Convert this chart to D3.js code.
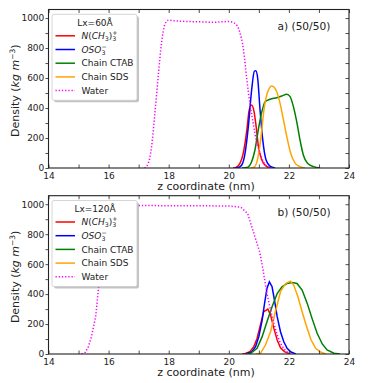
<!DOCTYPE html>
<html>
<head>
<meta charset="utf-8">
<script src="https://cdn.jsdelivr.net/npm/d3@7"></script>
<style>
  body { margin: 0; background: #fff; }
  svg { font-family: "DejaVu Sans", sans-serif; }
</style>
</head>
<body>
<div id="chart"></div>
<script>
// ---- data: [z (nm), density (kg m^-3)] ----
const xTicks = [14, 15, 16, 17, 18, 19, 20, 21, 22, 23, 24];
const yTicks = [0, 100, 200, 300, 400, 500, 600, 700, 800, 900, 1000];
const seriesNames = ["N", "OSO", "Chain CTAB", "Chain SDS", "Water"];
const seriesColors = ["red", "blue", "green", "orange", "magenta"];

const redA = [[20.14,0],[20.24,4],[20.37,31],[20.48,98],[20.6,253],[20.68,387],[20.76,420],[20.84,376],[20.91,276],[20.98,153],[21.1,53],[21.24,13],[21.39,0]];
const blueA = [[20.19,0],[20.32,3],[20.43,20],[20.54,98],[20.65,276],[20.76,520],[20.85,645],[20.9,649],[20.96,600],[21.04,387],[21.13,187],[21.24,53],[21.37,13],[21.54,0]];
const greenA = [[20.44,0],[20.6,3],[20.76,42],[20.87,120],[20.98,253],[21.1,376],[21.21,442],[21.37,458],[21.6,469],[21.76,480],[21.93,491],[22.04,476],[22.15,409],[22.26,309],[22.37,187],[22.48,87],[22.62,31],[22.82,9],[23.04,0]];
const orangeA = [[20.74,0],[20.84,5],[20.95,53],[21.06,187],[21.17,387],[21.28,498],[21.43,547],[21.54,531],[21.68,453],[21.82,320],[21.93,209],[22.06,98],[22.21,31],[22.37,9],[22.54,0]];
const waterA = [[17.2,0],[17.32,31],[17.43,142],[17.54,364],[17.65,610],[17.76,833],[17.87,955],[17.98,985],[18.3,980],[19,975],[19.5,972],[20,977],[20.2,965],[20.35,915],[20.49,787],[20.6,590],[20.71,420],[20.82,290],[20.93,170],[21.04,100],[21.15,42],[21.26,13],[21.4,0]];

const redB = [[20.45,0],[20.55,3],[20.7,16],[20.83,49],[20.94,104],[21.05,193],[21.16,282],[21.3,300],[21.39,260],[21.5,171],[21.61,93],[21.72,42],[21.85,16],[22.03,0]];
const blueB = [[20.55,0],[20.61,3],[20.77,16],[20.89,49],[21.0,116],[21.11,227],[21.19,338],[21.27,438],[21.35,482],[21.44,449],[21.52,360],[21.61,249],[21.72,149],[21.83,82],[21.94,38],[22.07,13],[22.23,0]];
const greenB = [[20.55,0],[20.72,3],[20.94,38],[21.11,116],[21.27,216],[21.44,316],[21.61,404],[21.77,449],[21.94,471],[22.11,478],[22.27,471],[22.44,427],[22.61,338],[22.77,238],[22.94,138],[23.11,67],[23.27,27],[23.5,5],[23.7,0]];
const orangeB = [[20.9,0],[21.05,3],[21.22,60],[21.39,149],[21.55,282],[21.72,416],[21.89,471],[22.05,487],[22.16,460],[22.3,382],[22.44,282],[22.59,182],[22.74,93],[22.89,38],[23.05,13],[23.23,0]];
const waterB = [[15.1,0],[15.22,10],[15.33,50],[15.43,117],[15.57,250],[15.67,450],[15.8,700],[15.95,900],[16.1,975],[16.3,990],[17,992],[18,990],[19,990],[20,988],[20.4,980],[20.63,937],[20.8,827],[21.03,680],[21.14,560],[21.27,404],[21.39,293],[21.5,204],[21.61,127],[21.72,71],[21.83,36],[21.94,13],[22.08,0]];

const panels = [
  { top: 9.5, bottom: 168, title: "Lx=60Å", tag: "a) (50/50)", data: [redA, blueA, greenA, orangeA, waterA] },
  { top: 195.7, bottom: 354, title: "Lx=120Å", tag: "b) (50/50)", data: [redB, blueB, greenB, orangeB, waterB] }
];

const width = 388, height = 383;
const left = 48.5, right = 349;

const svg = d3.select("#chart").append("svg")
  .attr("width", width).attr("height", height);

const x = d3.scaleLinear().domain([14, 24]).range([left, right]);

panels.forEach((p, i) => {
  const y = d3.scaleLinear().domain([0, 1057]).range([p.bottom, p.top]);
  const g = svg.append("g");

  const clipId = "clip" + i;
  g.append("clipPath").attr("id", clipId)
    .append("rect").attr("x", left).attr("y", p.top)
    .attr("width", right - left).attr("height", p.bottom - p.top);

  const line = d3.line()
    .x(d => x(d[0]))
    .y(d => y(d[1]))
    .curve(i === 0 ? d3.curveMonotoneX : d3.curveLinear);

  p.data.forEach((s, k) => {
    g.append("path")
      .datum(s)
      .attr("clip-path", `url(#${clipId})`)
      .attr("fill", "none")
      .attr("stroke", seriesColors[k])
      .attr("stroke-width", 1.5)
      .attr("stroke-dasharray", k === 4 ? "1.3,1.9" : null)
      .attr("d", line);
  });

  //=== axes ===
  const xAxis = d3.axisBottom(x).tickValues(xTicks)
    .tickSizeInner(-3.5).tickSizeOuter(0).tickPadding(4.5)
    .tickFormat(d => d % 2 === 0 ? d : "");
  const xTop = d3.axisTop(x).tickValues(xTicks)
    .tickSizeInner(-3.5).tickSizeOuter(0).tickFormat("");
  const yAxis = d3.axisLeft(y).tickValues(yTicks)
    .tickSizeInner(3).tickSizeOuter(0).tickPadding(1.2)
    .tickFormat(d => d % 200 === 0 ? d : "");
  const yRight = d3.axisRight(y).tickValues(yTicks)
    .tickSizeInner(-3.5).tickSizeOuter(0).tickFormat("");

  [[xAxis, `translate(0,${p.bottom})`], [xTop, `translate(0,${p.top})`],
   [yAxis, `translate(${left},0)`], [yRight, `translate(${right},0)`]].forEach(([ax, tr]) => {
    const a = g.append("g").attr("transform", tr).call(ax);
    a.select(".domain").remove();
    a.selectAll("line").attr("stroke", "#222").attr("stroke-width", 0.8);
    a.selectAll("text").attr("font-size", 9).attr("fill", "#222")
      .attr("font-family", "DejaVu Sans");
  });

  g.append("rect")
    .attr("x", left).attr("y", p.top)
    .attr("width", right - left).attr("height", p.bottom - p.top)
    .attr("fill", "none").attr("stroke", "#222").attr("stroke-width", 1.1);

  // axis labels
  g.append("text")
    .attr("x", 206).attr("y", p.bottom + 22)
    .attr("text-anchor", "middle").attr("font-size", 11).attr("fill", "#222")
    .text("z coordinate (nm)");

  const yl = g.append("text")
    .attr("transform", `translate(19,${(p.top + p.bottom) / 2 + 2}) rotate(-90)`)
    .attr("text-anchor", "middle").attr("font-size", 11).attr("fill", "#222");
  yl.append("tspan").text("Density (");
  yl.append("tspan").attr("font-style", "italic").text("kg m");
  yl.append("tspan").attr("font-size", 7.5).attr("dy", -4).text("−3");
  yl.append("tspan").attr("dy", 4).text(")");

  g.append("text")
    .attr("x", 277.5).attr("y", p.top + 20)
    .attr("font-size", 10.6).attr("fill", "#222")
    .text(p.tag);

  //=== legend ===
  const lx = 52, ly = p.top + 4.8, lw = 85, lh = 86;
  const lg = g.append("g");
  lg.append("rect").attr("x", lx + 2).attr("y", ly + 2)
    .attr("width", lw).attr("height", lh).attr("rx", 2)
    .attr("fill", "#888").attr("opacity", 0.5);
  lg.append("rect").attr("x", lx).attr("y", ly)
    .attr("width", lw).attr("height", lh).attr("rx", 2)
    .attr("fill", "#fff").attr("stroke", "#ccc").attr("stroke-width", 0.8);
  lg.append("text")
    .attr("x", lx + 43).attr("y", ly + 11.3)
    .attr("text-anchor", "middle").attr("font-size", 9).attr("fill", "#222")
    .text(p.title);

  seriesNames.forEach((name, k) => {
    const ry = ly + 21.5 + k * 13.7;
    lg.append("line")
      .attr("x1", lx + 3.5).attr("x2", lx + 23)
      .attr("y1", ry).attr("y2", ry)
      .attr("stroke", seriesColors[k]).attr("stroke-width", 1.5)
      .attr("stroke-dasharray", k === 4 ? "1.3,1.9" : null);
    const t = lg.append("text")
      .attr("x", lx + 29.5).attr("y", ry + 3.2)
      .attr("font-size", 9).attr("fill", "#222");
    if (k === 0) {
      t.append("tspan").attr("font-style", "italic").text("N");
      t.append("tspan").text("(");
      t.append("tspan").attr("font-style", "italic").text("CH");
      t.append("tspan").attr("font-size", 6.3).attr("dy", 2.2).text("3");
      t.append("tspan").attr("dy", -2.2).text(")");
      t.append("tspan").attr("font-size", 6.3).attr("dy", 2.2).text("3");
      t.append("tspan").attr("font-size", 6.3).attr("dx", -4).attr("dy", -6).text("+");
    } else if (k === 1) {
      t.append("tspan").attr("font-style", "italic").text("OSO");
      t.append("tspan").attr("font-size", 6.3).attr("dy", 2.2).text("3");
      t.append("tspan").attr("font-size", 6.3).attr("dx", -4).attr("dy", -6).text("−");
    } else {
      t.text(name);
    }
  });
});
</script>
</body>
</html>
